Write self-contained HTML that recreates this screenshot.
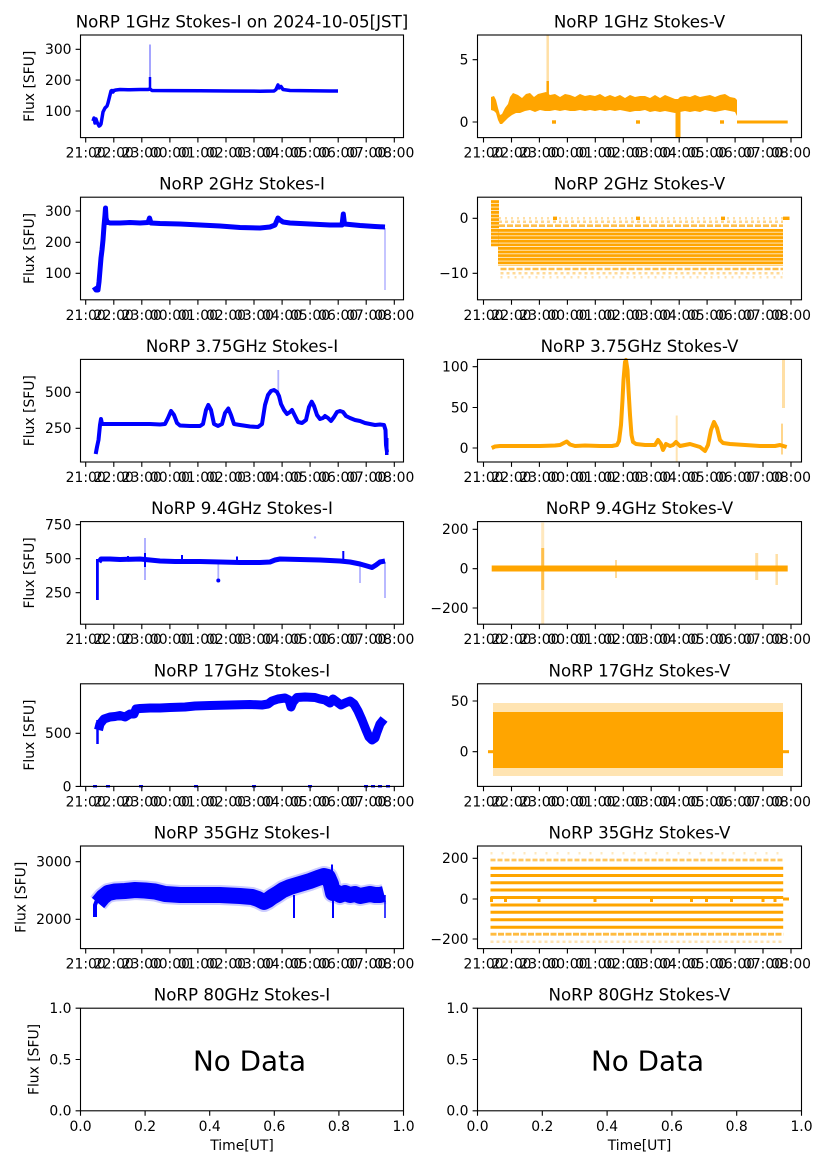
<!DOCTYPE html>
<html><head><meta charset="utf-8">
<style>
html,body{margin:0;padding:0;background:#fff;}
svg{display:block;}
text{font-family:"DejaVu Sans","Liberation Sans",sans-serif;fill:#000;}
.tk{font-size:13.9px;}
.xt{font-size:13.9px;text-anchor:middle;}
.yl{font-size:13.9px;text-anchor:end;}
.yr{font-size:13.9px;text-anchor:end;}
.ti{font-size:16.67px;text-anchor:middle;}
.ax{fill:none;stroke:#000;stroke-width:1.1;}
.tick{fill:none;stroke:#000;stroke-width:1.1;}
.b{fill:none;stroke:#0000ff;stroke-linejoin:round;stroke-linecap:butt;}
.o{fill:none;stroke:#ffa500;stroke-linejoin:round;stroke-linecap:butt;}
</style></head>
<body>
<svg width="827" height="1169" viewBox="0 0 827 1169" xmlns="http://www.w3.org/2000/svg">
<defs>
<pattern id="st" patternUnits="userSpaceOnUse" x="0" y="229" width="8" height="3.6">
<rect x="0" y="0" width="8" height="2.9" fill="#ffa500"/>
</pattern>
</defs>
<rect width="827" height="1169" fill="#fff"/>

<!-- ===================== TITLES ===================== -->
<text class="ti" x="242" y="27.5">NoRP 1GHz Stokes-I on 2024-10-05[JST]</text>
<text class="ti" x="639.5" y="27.5">NoRP 1GHz Stokes-V</text>
<text class="ti" x="242" y="189.7">NoRP 2GHz Stokes-I</text>
<text class="ti" x="639.5" y="189.7">NoRP 2GHz Stokes-V</text>
<text class="ti" x="242" y="351.9">NoRP 3.75GHz Stokes-I</text>
<text class="ti" x="639.5" y="351.9">NoRP 3.75GHz Stokes-V</text>
<text class="ti" x="242" y="514.1">NoRP 9.4GHz Stokes-I</text>
<text class="ti" x="639.5" y="514.1">NoRP 9.4GHz Stokes-V</text>
<text class="ti" x="242" y="676.3">NoRP 17GHz Stokes-I</text>
<text class="ti" x="639.5" y="676.3">NoRP 17GHz Stokes-V</text>
<text class="ti" x="242" y="838.5">NoRP 35GHz Stokes-I</text>
<text class="ti" x="639.5" y="838.5">NoRP 35GHz Stokes-V</text>
<text class="ti" x="242" y="1000.7">NoRP 80GHz Stokes-I</text>
<text class="ti" x="639.5" y="1000.7">NoRP 80GHz Stokes-V</text>

<!-- ===================== Y LABELS ===================== -->
<text class="tk" text-anchor="middle" transform="translate(29.5,86.3) rotate(-90)" x="0" y="4.5">Flux [SFU]</text>
<text class="tk" text-anchor="middle" transform="translate(29.5,248.5) rotate(-90)" x="0" y="4.5">Flux [SFU]</text>
<text class="tk" text-anchor="middle" transform="translate(29.5,410.7) rotate(-90)" x="0" y="4.5">Flux [SFU]</text>
<text class="tk" text-anchor="middle" transform="translate(29.5,572.9) rotate(-90)" x="0" y="4.5">Flux [SFU]</text>
<text class="tk" text-anchor="middle" transform="translate(29.5,735.1) rotate(-90)" x="0" y="4.5">Flux [SFU]</text>
<text class="tk" text-anchor="middle" transform="translate(21,897.3) rotate(-90)" x="0" y="4.5">Flux [SFU]</text>
<text class="tk" text-anchor="middle" transform="translate(34,1059.5) rotate(-90)" x="0" y="4.5">Flux [SFU]</text>

<!-- ===================== ROW 1 DATA ===================== -->
<path class="b" stroke-width="3.5" d="M93,121 L94,118 L95,123 L96,119 L97,122 L98,124 L99,126 L100,125.5 L101,124 L102,118 L103,112 L104,110 L105,108 L106,107 L107,106 L108,103 L109,99 L110,95 L111,91 L112,90.5 L113,92 L114,90.5 L116,90 L120,89.5 L130,89.8 L140,89.5 L148,89.5 L150,89 L152,90.5 L170,90.6 L200,90.8 L230,91 L260,91.2 L274,91 L276,89.5 L278,85 L279,88 L281,86.5 L283,89.5 L290,90.5 L310,90.8 L330,91 L338,91"/>
<line x1="150" y1="90" x2="150" y2="77" stroke="#0000ff" stroke-width="2.5"/>
<line x1="150" y1="77" x2="150" y2="44.5" stroke="#0000ff" stroke-width="2" opacity="0.35"/>
<polygon fill="#ffa500" points="491,97 494,96 496,100 498,108 500,115 502,114 505,108 508,104 510,97 513,93 518,95 522,98 526,94 530,93 534,97 538,94 542,93 546,92 550,95 555,94 560,97 565,94 570,95 575,97 580,94 585,96 590,95 595,96 600,94 605,97 610,95 615,97 620,95 625,98 630,95 635,97 640,96 645,96 650,98 655,95 660,98 665,95 670,97 675,99 678,99 680,97 685,96 690,97 695,95 700,97 705,96 710,95 715,97 720,95 725,94 730,97 735,98 737,100 737,116 735,112 730,111 725,110 720,111 715,112 710,111 705,110 700,112 695,111 690,112 685,111 680,112 675,113 670,112 665,111 660,112 655,111 650,112 645,110 640,111 635,111 630,112 625,111 620,110 615,111 610,110 605,111 600,110 595,111 590,110 585,111 580,110 575,111 570,111 565,110 560,111 555,110 550,111 545,111 540,110 535,112 530,110 525,111 520,113 516,113 512,115 508,118 505,121 502,124 500,124 498,120 496,113 494,111 491,110"/>
<rect x="675.5" y="108" width="5" height="29.5" fill="#ffa500"/>
<line x1="547.7" y1="35.5" x2="547.7" y2="81" stroke="#ffa500" stroke-width="2.5" opacity="0.35"/>
<line x1="547.7" y1="81" x2="547.7" y2="95" stroke="#ffa500" stroke-width="2.5"/>
<line x1="737" y1="122" x2="787.7" y2="122" stroke="#ffa500" stroke-width="3"/>
<rect x="552" y="120.3" width="4" height="3.4" fill="#ffa500"/>
<rect x="636" y="120.3" width="4" height="3.4" fill="#ffa500"/>
<rect x="720" y="120.3" width="4" height="3.4" fill="#ffa500"/>

<!-- ===================== ROW 2 DATA ===================== -->
<path class="b" stroke-width="5" d="M94,287 L96,290 L98,290 L99,282 L100,270 L101,258 L102,250 L103,240 L104,226 L105,215 L105.5,208 L106,218 L107,222 L110,223 L120,223 L130,222.5 L140,223 L148,222.5 L149.5,218 L151,223 L160,223.5 L180,224 L200,225 L220,226 L240,227.5 L260,228 L270,227 L275,225 L278,218 L280,220 L283,222 L290,223 L310,224 L330,225 L342,225 L343.3,214 L344.5,224 L360,225.5 L375,226.5 L385,227"/>
<line x1="385" y1="228" x2="385" y2="290" stroke="#0000ff" stroke-width="1.5" opacity="0.3"/>
<rect x="491" y="200" width="8" height="46.5" fill="url(#st)"/>
<rect x="498" y="229" width="285" height="36.5" fill="url(#st)"/>
<line x1="499" y1="218.3" x2="783" y2="218.3" stroke="#ffa500" stroke-width="2.5" stroke-dasharray="2 4" opacity="0.35"/>
<line x1="499" y1="221.7" x2="783" y2="221.7" stroke="#ffa500" stroke-width="2.5" stroke-dasharray="3 3" opacity="0.45"/>
<line x1="499" y1="225.7" x2="783" y2="225.7" stroke="#ffa500" stroke-width="2.6" stroke-dasharray="6 2" opacity="0.7"/>
<line x1="500.5" y1="269" x2="783" y2="269" stroke="#ffa500" stroke-width="2.6" stroke-dasharray="6 2" opacity="0.7"/>
<line x1="500.5" y1="273.3" x2="783" y2="273.3" stroke="#ffa500" stroke-width="2.5" stroke-dasharray="3 3" opacity="0.4"/>
<line x1="500.5" y1="277.3" x2="783" y2="277.3" stroke="#ffa500" stroke-width="2.5" stroke-dasharray="2 5" opacity="0.3"/>
<rect x="553" y="216.6" width="4" height="3.4" fill="#ffa500"/>
<rect x="636" y="216.6" width="4" height="3.4" fill="#ffa500"/>
<rect x="721" y="216.6" width="4" height="3.4" fill="#ffa500"/>
<rect x="783" y="216.6" width="6.5" height="3.4" fill="#ffa500"/>

<!-- ===================== ROW 3 DATA ===================== -->
<path class="b" stroke-width="4" d="M95.7,454 L97,447 L98.5,440 L100,425 L101,419 L102,424 L110,424 L130,424 L150,424 L160,424.5 L165,424 L168,418 L171,411 L174,415 L177,423 L180,425.5 L190,426 L200,426 L203,424 L206,410 L208.3,405 L211,410 L214,424 L218,426 L222,424 L225,413 L228.3,408.5 L231,415 L234,424 L240,425 L250,426.5 L258,427 L262,424 L265,405 L268,395 L271,391 L274,390 L277,392 L279,396 L281,404 L284,410 L287,414 L290,412 L292,410 L295,416 L298,422 L302,423 L306,420 L309,407 L311.7,401.7 L314,406 L317,415 L320,419 L323,418 L325,416 L328,418 L331,421 L334,417 L337,412 L340,411 L343,412 L346,416 L350,418 L355,420 L360,421 L365,423 L370,424 L375,425 L380,424.5 L384,425 L385.5,430 L386,445 L387,452"/>
<line x1="278.3" y1="392" x2="278.3" y2="370" stroke="#0000ff" stroke-width="1.8" opacity="0.3"/>
<rect x="385" y="438" width="3.5" height="17" fill="#0000ff"/>
<path class="o" stroke-width="4" d="M491.7,448 L495,446.5 L500,446 L520,446 L540,446 L555,445.5 L560,445 L566.7,441.5 L570,444.5 L575,446 L585,445.5 L600,446 L612,446 L617,445 L619,441 L621,425 L622.5,400 L623.5,380 L625,362 L626,360 L627.5,370 L628.5,390 L630,415 L631.5,435 L633,442 L636,444 L645,445 L655,445 L658,440 L661,444 L663,450 L666,444 L670,446 L673,445 L676,442 L680,446 L690,444 L700,447 L705,451 L708,445 L711,430 L714,422 L717,428 L720,440 L723,443 L730,444 L745,445 L760,446 L775,446 L780,445 L786.7,447"/>
<line x1="676.7" y1="415.5" x2="676.7" y2="461.5" stroke="#ffa500" stroke-width="2" opacity="0.3"/>
<line x1="783.5" y1="359.5" x2="783.5" y2="408" stroke="#ffa500" stroke-width="3" opacity="0.35"/>
<line x1="782" y1="423.6" x2="782" y2="454.5" stroke="#ffa500" stroke-width="1.5" opacity="0.6"/>

<!-- ===================== ROW 4 DATA ===================== -->
<path class="b" stroke-width="5" d="M99,562 L101,559 L110,559 L120,559.5 L140,559 L150,560 L160,561 L175,561.5 L200,561.5 L220,562 L240,562.5 L260,562.5 L270,562 L275,560 L280,559 L300,559.5 L320,560 L330,560.5 L340,561 L350,562 L360,564 L367,566 L372,567.5 L376,565 L380,562 L385,561"/>
<rect x="96" y="559" width="2.8" height="41" fill="#0000ff"/>
<line x1="145" y1="538" x2="145" y2="580" stroke="#0000ff" stroke-width="2" opacity="0.3"/>
<line x1="145" y1="553" x2="145" y2="567" stroke="#0000ff" stroke-width="2"/>
<line x1="218.3" y1="562" x2="218.3" y2="580" stroke="#0000ff" stroke-width="1.8" opacity="0.3"/>
<circle cx="218.3" cy="580.5" r="2" fill="#0000ff"/>
<line x1="360" y1="562" x2="360" y2="583" stroke="#0000ff" stroke-width="1.8" opacity="0.3"/>
<line x1="385" y1="562" x2="385" y2="598" stroke="#0000ff" stroke-width="1.8" opacity="0.3"/>
<line x1="343.3" y1="551" x2="343.3" y2="560" stroke="#0000ff" stroke-width="2"/>
<line x1="128" y1="556" x2="128" y2="559" stroke="#0000ff" stroke-width="2"/>
<line x1="182" y1="555" x2="182" y2="560" stroke="#0000ff" stroke-width="2"/>
<line x1="237" y1="556.5" x2="237" y2="561" stroke="#0000ff" stroke-width="2"/>
<circle cx="315" cy="537.5" r="1.2" fill="#0000ff" opacity="0.3"/>
<rect x="491.7" y="565.5" width="296" height="6" fill="#ffa500"/>
<line x1="542.7" y1="522.5" x2="542.7" y2="624" stroke="#ffa500" stroke-width="3" opacity="0.25"/>
<line x1="542.7" y1="548" x2="542.7" y2="590" stroke="#ffa500" stroke-width="3" opacity="0.6"/>
<line x1="616" y1="560" x2="616" y2="578" stroke="#ffa500" stroke-width="2" opacity="0.4"/>
<line x1="756.7" y1="553" x2="756.7" y2="580" stroke="#ffa500" stroke-width="3" opacity="0.35"/>
<line x1="776.7" y1="554" x2="776.7" y2="585" stroke="#ffa500" stroke-width="2.5" opacity="0.35"/>

<!-- ===================== ROW 5 DATA ===================== -->
<path class="b" stroke-width="9" d="M98.5,730 L100,724 L104,719 L110,717 L115,716.5 L120,715.5 L125,717 L130,714 L134,714 L136,709 L140,708.5 L150,708 L160,708 L170,707.5 L185,707 L195,706 L210,705.5 L230,705 L250,704.5 L262,705 L268,704 L272,701 L278,699 L285,698 L289,700 L291,707 L293,702 L297,697.5 L305,697 L315,697.5 L320,699 L325,700 L330,703 L333,699 L337,702 L341,705 L345,703 L350,701 L354,704 L358,711 L362,720 L366,730 L369,737 L372,740 L375,738 L377,732 L380,724 L384,719"/>
<line x1="97.5" y1="744" x2="97.5" y2="720" stroke="#0000ff" stroke-width="2.5"/>
<g fill="#0000ff">
<rect x="93" y="785" width="4" height="2.5"/><rect x="106" y="785" width="4" height="2.5"/>
<rect x="139" y="785" width="4" height="2.5"/><rect x="194" y="785" width="4" height="2.5"/>
<rect x="252" y="785" width="4" height="2.5"/><rect x="308" y="785" width="4" height="2.5"/>
<rect x="364" y="785" width="4" height="2.5"/><rect x="371" y="785" width="4" height="2.5"/>
<rect x="378" y="785" width="4" height="2.5"/><rect x="386" y="785" width="4" height="2.5"/>
</g>
<rect x="493" y="703" width="290" height="73" fill="#ffa500" opacity="0.3"/>
<rect x="493" y="712" width="290" height="56" fill="#ffa500"/>
<rect x="488" y="750.2" width="5" height="3" fill="#ffa500"/>
<rect x="783" y="750.2" width="6" height="3" fill="#ffa500"/>

<!-- ===================== ROW 6 DATA ===================== -->
<path class="b" stroke-width="20" opacity="0.2" d="M98,903 L103,897 L108,893 L115,891.5 L125,891 L135,890 L145,890.5 L155,891.5 L165,894 L180,895 L200,895 L220,895 L240,896 L252,897 L258,899 L264,902 L268,900 L272,897 L277,894 L283,890 L290,887 L300,884 L310,881 L318,878 L324,876 L328,877 L331,884 L333,893 L336,892 L340,895 L345,893 L350,895 L355,894 L360,896 L365,895 L370,894 L375,895 L380,895 L384,894"/>
<path class="b" stroke-width="16" d="M98,903 L103,897 L108,893 L115,891.5 L125,891 L135,890 L145,890.5 L155,891.5 L165,894 L180,895 L200,895 L220,895 L240,896 L252,897 L258,899 L264,902 L268,900 L272,897 L277,894 L283,890 L290,887 L300,884 L310,881 L318,878 L324,876 L328,877 L331,884 L333,893 L336,892 L340,895 L345,893 L350,895 L355,894 L360,896 L365,895 L370,894 L375,895 L380,895 L384,894"/>
<path class="b" stroke-width="4" d="M95,917 L95,905 L97,900"/>
<line x1="332" y1="880" x2="332" y2="864.5" stroke="#0000ff" stroke-width="2"/>
<line x1="294" y1="895" x2="294" y2="918" stroke="#0000ff" stroke-width="2"/>
<line x1="333" y1="895" x2="333" y2="918" stroke="#0000ff" stroke-width="2"/>
<line x1="385" y1="895" x2="385" y2="918" stroke="#0000ff" stroke-width="1.5"/>
<g stroke="#ffa500" stroke-width="3">
<line x1="490.5" y1="868.3" x2="783.2" y2="868.3"/>
<line x1="490.5" y1="875.5" x2="783.2" y2="875.5"/>
<line x1="490.5" y1="882.7" x2="783.2" y2="882.7"/>
<line x1="490.5" y1="890" x2="783.2" y2="890"/>
<line x1="490.5" y1="897.5" x2="783.2" y2="897.5"/>
<line x1="490.5" y1="905" x2="783.2" y2="905"/>
<line x1="490.5" y1="912.3" x2="783.2" y2="912.3"/>
<line x1="490.5" y1="919.8" x2="783.2" y2="919.8"/>
<line x1="490.5" y1="927.3" x2="783.2" y2="927.3"/>
</g>
<line x1="490.5" y1="860" x2="783.2" y2="860" stroke="#ffa500" stroke-width="2.8" stroke-dasharray="5 2" opacity="0.6"/>
<line x1="490.5" y1="934.2" x2="783.2" y2="934.2" stroke="#ffa500" stroke-width="2.8" stroke-dasharray="6 1.5" opacity="0.75"/>
<line x1="490.5" y1="941.7" x2="783.2" y2="941.7" stroke="#ffa500" stroke-width="2.5" stroke-dasharray="3 3" opacity="0.3"/>
<line x1="490.5" y1="853.3" x2="783.2" y2="853.3" stroke="#ffa500" stroke-width="2.5" stroke-dasharray="2 9" opacity="0.25"/>
<g fill="#ffa500">
<rect x="490" y="897" width="3" height="5"/><rect x="504" y="897" width="3" height="5"/>
<rect x="537.5" y="897" width="3" height="5"/><rect x="593.5" y="897" width="3" height="5"/>
<rect x="650" y="897" width="3" height="5"/><rect x="690" y="897" width="3" height="5"/>
<rect x="705" y="897" width="3" height="5"/><rect x="730" y="897" width="3" height="5"/>
<rect x="761.5" y="897" width="3" height="5"/><rect x="773.5" y="897" width="3" height="5"/>
<rect x="783" y="897.5" width="6" height="3"/>
</g>

<!-- ===================== NO DATA ===================== -->
<text x="249.5" y="1070.5" text-anchor="middle" style="font-size:27.8px">No Data</text>
<text x="647.5" y="1070.5" text-anchor="middle" style="font-size:27.8px">No Data</text>

<!-- ===================== AXES FRAMES ===================== -->
<g class="ax">
<rect x="80.5" y="35" width="323" height="102.6"/>
<rect x="477.5" y="35" width="324" height="102.6"/>
<rect x="80.5" y="197.2" width="323" height="102.6"/>
<rect x="477.5" y="197.2" width="324" height="102.6"/>
<rect x="80.5" y="359.4" width="323" height="102.6"/>
<rect x="477.5" y="359.4" width="324" height="102.6"/>
<rect x="80.5" y="521.6" width="323" height="102.6"/>
<rect x="477.5" y="521.6" width="324" height="102.6"/>
<rect x="80.5" y="683.8" width="323" height="102.6"/>
<rect x="477.5" y="683.8" width="324" height="102.6"/>
<rect x="80.5" y="846" width="323" height="102.6"/>
<rect x="477.5" y="846" width="324" height="102.6"/>
<rect x="80.5" y="1008.2" width="323" height="102.6"/>
<rect x="477.5" y="1008.2" width="324" height="102.6"/>
</g>

<!-- ===================== TICKS ===================== -->
<g class="tick">
<path d="M85.7,137.6v4.9M113.8,137.6v4.9M141.8,137.6v4.9M169.9,137.6v4.9M197.9,137.6v4.9M226,137.6v4.9M254,137.6v4.9M282.1,137.6v4.9M310.1,137.6v4.9M338.2,137.6v4.9M366.2,137.6v4.9M394.3,137.6v4.9"/>
<path d="M483.5,137.6v4.9M511.5,137.6v4.9M539.4,137.6v4.9M567.4,137.6v4.9M595.3,137.6v4.9M623.3,137.6v4.9M651.2,137.6v4.9M679.2,137.6v4.9M707.1,137.6v4.9M735.1,137.6v4.9M763,137.6v4.9M791,137.6v4.9"/>
<path d="M85.7,299.8v4.9M113.8,299.8v4.9M141.8,299.8v4.9M169.9,299.8v4.9M197.9,299.8v4.9M226,299.8v4.9M254,299.8v4.9M282.1,299.8v4.9M310.1,299.8v4.9M338.2,299.8v4.9M366.2,299.8v4.9M394.3,299.8v4.9"/>
<path d="M483.5,299.8v4.9M511.5,299.8v4.9M539.4,299.8v4.9M567.4,299.8v4.9M595.3,299.8v4.9M623.3,299.8v4.9M651.2,299.8v4.9M679.2,299.8v4.9M707.1,299.8v4.9M735.1,299.8v4.9M763,299.8v4.9M791,299.8v4.9"/>
<path d="M85.7,462v4.9M113.8,462v4.9M141.8,462v4.9M169.9,462v4.9M197.9,462v4.9M226,462v4.9M254,462v4.9M282.1,462v4.9M310.1,462v4.9M338.2,462v4.9M366.2,462v4.9M394.3,462v4.9"/>
<path d="M483.5,462v4.9M511.5,462v4.9M539.4,462v4.9M567.4,462v4.9M595.3,462v4.9M623.3,462v4.9M651.2,462v4.9M679.2,462v4.9M707.1,462v4.9M735.1,462v4.9M763,462v4.9M791,462v4.9"/>
<path d="M85.7,624.2v4.9M113.8,624.2v4.9M141.8,624.2v4.9M169.9,624.2v4.9M197.9,624.2v4.9M226,624.2v4.9M254,624.2v4.9M282.1,624.2v4.9M310.1,624.2v4.9M338.2,624.2v4.9M366.2,624.2v4.9M394.3,624.2v4.9"/>
<path d="M483.5,624.2v4.9M511.5,624.2v4.9M539.4,624.2v4.9M567.4,624.2v4.9M595.3,624.2v4.9M623.3,624.2v4.9M651.2,624.2v4.9M679.2,624.2v4.9M707.1,624.2v4.9M735.1,624.2v4.9M763,624.2v4.9M791,624.2v4.9"/>
<path d="M85.7,786.4v4.9M113.8,786.4v4.9M141.8,786.4v4.9M169.9,786.4v4.9M197.9,786.4v4.9M226,786.4v4.9M254,786.4v4.9M282.1,786.4v4.9M310.1,786.4v4.9M338.2,786.4v4.9M366.2,786.4v4.9M394.3,786.4v4.9"/>
<path d="M483.5,786.4v4.9M511.5,786.4v4.9M539.4,786.4v4.9M567.4,786.4v4.9M595.3,786.4v4.9M623.3,786.4v4.9M651.2,786.4v4.9M679.2,786.4v4.9M707.1,786.4v4.9M735.1,786.4v4.9M763,786.4v4.9M791,786.4v4.9"/>
<path d="M85.7,948.6v4.9M113.8,948.6v4.9M141.8,948.6v4.9M169.9,948.6v4.9M197.9,948.6v4.9M226,948.6v4.9M254,948.6v4.9M282.1,948.6v4.9M310.1,948.6v4.9M338.2,948.6v4.9M366.2,948.6v4.9M394.3,948.6v4.9"/>
<path d="M483.5,948.6v4.9M511.5,948.6v4.9M539.4,948.6v4.9M567.4,948.6v4.9M595.3,948.6v4.9M623.3,948.6v4.9M651.2,948.6v4.9M679.2,948.6v4.9M707.1,948.6v4.9M735.1,948.6v4.9M763,948.6v4.9M791,948.6v4.9"/>
<path d="M80.5,1110.8v4.9M145.1,1110.8v4.9M209.7,1110.8v4.9M274.3,1110.8v4.9M338.9,1110.8v4.9M403.5,1110.8v4.9"/>
<path d="M477.5,1110.8v4.9M542.3,1110.8v4.9M607.1,1110.8v4.9M671.9,1110.8v4.9M736.7,1110.8v4.9M801.5,1110.8v4.9"/>
<path d="M75.6,111h4.9M75.6,80.1h4.9M75.6,49.3h4.9"/>
<path d="M472.6,122h4.9M472.6,59.7h4.9"/>
<path d="M75.6,273.3h4.9M75.6,242.3h4.9M75.6,211h4.9"/>
<path d="M472.6,218.3h4.9M472.6,273.3h4.9"/>
<path d="M75.6,428.3h4.9M75.6,392.3h4.9"/>
<path d="M472.6,448h4.9M472.6,407.5h4.9M472.6,366.7h4.9"/>
<path d="M75.6,592.7h4.9M75.6,558.7h4.9M75.6,524.7h4.9"/>
<path d="M472.6,529.3h4.9M472.6,568.7h4.9M472.6,608h4.9"/>
<path d="M75.6,786.4h4.9M75.6,733.3h4.9"/>
<path d="M472.6,751.7h4.9M472.6,701h4.9"/>
<path d="M75.6,919.3h4.9M75.6,861.7h4.9"/>
<path d="M472.6,858.3h4.9M472.6,899h4.9M472.6,939h4.9"/>
<path d="M75.6,1110.8h4.9M75.6,1059.5h4.9M75.6,1008.2h4.9"/>
<path d="M472.6,1110.8h4.9M472.6,1059.5h4.9M472.6,1008.2h4.9"/>
</g>

<!-- ===================== Y TICK LABELS ===================== -->
<text class="yl" x="71.5" y="115.9">100</text>
<text class="yl" x="71.5" y="85">200</text>
<text class="yl" x="71.5" y="54.2">300</text>
<text class="yr" x="468.5" y="126.9">0</text>
<text class="yr" x="468.5" y="64.6">5</text>

<text class="yl" x="71.5" y="278.2">100</text>
<text class="yl" x="71.5" y="247.2">200</text>
<text class="yl" x="71.5" y="215.9">300</text>
<text class="yr" x="468.5" y="223.2">0</text>
<text class="yr" x="468.5" y="278.2">−10</text>

<text class="yl" x="71.5" y="433.2">250</text>
<text class="yl" x="71.5" y="397.2">500</text>
<text class="yr" x="468.5" y="452.9">0</text>
<text class="yr" x="468.5" y="412.4">50</text>
<text class="yr" x="468.5" y="371.6">100</text>

<text class="yl" x="71.5" y="597.6">250</text>
<text class="yl" x="71.5" y="563.6">500</text>
<text class="yl" x="71.5" y="529.6">750</text>
<text class="yr" x="468.5" y="534.2">200</text>
<text class="yr" x="468.5" y="573.6">0</text>
<text class="yr" x="468.5" y="612.9">−200</text>

<text class="yl" x="71.5" y="791.3">0</text>
<text class="yl" x="71.5" y="738.2">500</text>
<text class="yr" x="468.5" y="756.6">0</text>
<text class="yr" x="468.5" y="705.9">50</text>

<text class="yl" x="71.5" y="924.2">2000</text>
<text class="yl" x="71.5" y="866.6">3000</text>
<text class="yr" x="468.5" y="863.2">200</text>
<text class="yr" x="468.5" y="903.9">0</text>
<text class="yr" x="468.5" y="943.9">−200</text>

<text class="yl" x="71.5" y="1115.7">0.0</text>
<text class="yl" x="71.5" y="1064.4">0.5</text>
<text class="yl" x="71.5" y="1013.1">1.0</text>
<text class="yr" x="468.5" y="1115.7">0.0</text>
<text class="yr" x="468.5" y="1064.4">0.5</text>
<text class="yr" x="468.5" y="1013.1">1.0</text>

<!-- ===================== X TICK LABELS ===================== -->
<g class="xt">
<text x="85.7" y="157.6">21:00</text><text x="113.8" y="157.6">22:00</text><text x="141.8" y="157.6">23:00</text><text x="169.9" y="157.6">00:00</text><text x="197.9" y="157.6">01:00</text><text x="226" y="157.6">02:00</text><text x="254" y="157.6">03:00</text><text x="282.1" y="157.6">04:00</text><text x="310.1" y="157.6">05:00</text><text x="338.2" y="157.6">06:00</text><text x="366.2" y="157.6">07:00</text><text x="394.3" y="157.6">08:00</text>
<text x="483.5" y="157.6">21:00</text><text x="511.5" y="157.6">22:00</text><text x="539.4" y="157.6">23:00</text><text x="567.4" y="157.6">00:00</text><text x="595.3" y="157.6">01:00</text><text x="623.3" y="157.6">02:00</text><text x="651.2" y="157.6">03:00</text><text x="679.2" y="157.6">04:00</text><text x="707.1" y="157.6">05:00</text><text x="735.1" y="157.6">06:00</text><text x="763" y="157.6">07:00</text><text x="791" y="157.6">08:00</text>

<text x="85.7" y="319.8">21:00</text><text x="113.8" y="319.8">22:00</text><text x="141.8" y="319.8">23:00</text><text x="169.9" y="319.8">00:00</text><text x="197.9" y="319.8">01:00</text><text x="226" y="319.8">02:00</text><text x="254" y="319.8">03:00</text><text x="282.1" y="319.8">04:00</text><text x="310.1" y="319.8">05:00</text><text x="338.2" y="319.8">06:00</text><text x="366.2" y="319.8">07:00</text><text x="394.3" y="319.8">08:00</text>
<text x="483.5" y="319.8">21:00</text><text x="511.5" y="319.8">22:00</text><text x="539.4" y="319.8">23:00</text><text x="567.4" y="319.8">00:00</text><text x="595.3" y="319.8">01:00</text><text x="623.3" y="319.8">02:00</text><text x="651.2" y="319.8">03:00</text><text x="679.2" y="319.8">04:00</text><text x="707.1" y="319.8">05:00</text><text x="735.1" y="319.8">06:00</text><text x="763" y="319.8">07:00</text><text x="791" y="319.8">08:00</text>

<text x="85.7" y="482">21:00</text><text x="113.8" y="482">22:00</text><text x="141.8" y="482">23:00</text><text x="169.9" y="482">00:00</text><text x="197.9" y="482">01:00</text><text x="226" y="482">02:00</text><text x="254" y="482">03:00</text><text x="282.1" y="482">04:00</text><text x="310.1" y="482">05:00</text><text x="338.2" y="482">06:00</text><text x="366.2" y="482">07:00</text><text x="394.3" y="482">08:00</text>
<text x="483.5" y="482">21:00</text><text x="511.5" y="482">22:00</text><text x="539.4" y="482">23:00</text><text x="567.4" y="482">00:00</text><text x="595.3" y="482">01:00</text><text x="623.3" y="482">02:00</text><text x="651.2" y="482">03:00</text><text x="679.2" y="482">04:00</text><text x="707.1" y="482">05:00</text><text x="735.1" y="482">06:00</text><text x="763" y="482">07:00</text><text x="791" y="482">08:00</text>

<text x="85.7" y="644.2">21:00</text><text x="113.8" y="644.2">22:00</text><text x="141.8" y="644.2">23:00</text><text x="169.9" y="644.2">00:00</text><text x="197.9" y="644.2">01:00</text><text x="226" y="644.2">02:00</text><text x="254" y="644.2">03:00</text><text x="282.1" y="644.2">04:00</text><text x="310.1" y="644.2">05:00</text><text x="338.2" y="644.2">06:00</text><text x="366.2" y="644.2">07:00</text><text x="394.3" y="644.2">08:00</text>
<text x="483.5" y="644.2">21:00</text><text x="511.5" y="644.2">22:00</text><text x="539.4" y="644.2">23:00</text><text x="567.4" y="644.2">00:00</text><text x="595.3" y="644.2">01:00</text><text x="623.3" y="644.2">02:00</text><text x="651.2" y="644.2">03:00</text><text x="679.2" y="644.2">04:00</text><text x="707.1" y="644.2">05:00</text><text x="735.1" y="644.2">06:00</text><text x="763" y="644.2">07:00</text><text x="791" y="644.2">08:00</text>

<text x="85.7" y="806.4">21:00</text><text x="113.8" y="806.4">22:00</text><text x="141.8" y="806.4">23:00</text><text x="169.9" y="806.4">00:00</text><text x="197.9" y="806.4">01:00</text><text x="226" y="806.4">02:00</text><text x="254" y="806.4">03:00</text><text x="282.1" y="806.4">04:00</text><text x="310.1" y="806.4">05:00</text><text x="338.2" y="806.4">06:00</text><text x="366.2" y="806.4">07:00</text><text x="394.3" y="806.4">08:00</text>
<text x="483.5" y="806.4">21:00</text><text x="511.5" y="806.4">22:00</text><text x="539.4" y="806.4">23:00</text><text x="567.4" y="806.4">00:00</text><text x="595.3" y="806.4">01:00</text><text x="623.3" y="806.4">02:00</text><text x="651.2" y="806.4">03:00</text><text x="679.2" y="806.4">04:00</text><text x="707.1" y="806.4">05:00</text><text x="735.1" y="806.4">06:00</text><text x="763" y="806.4">07:00</text><text x="791" y="806.4">08:00</text>

<text x="85.7" y="968.6">21:00</text><text x="113.8" y="968.6">22:00</text><text x="141.8" y="968.6">23:00</text><text x="169.9" y="968.6">00:00</text><text x="197.9" y="968.6">01:00</text><text x="226" y="968.6">02:00</text><text x="254" y="968.6">03:00</text><text x="282.1" y="968.6">04:00</text><text x="310.1" y="968.6">05:00</text><text x="338.2" y="968.6">06:00</text><text x="366.2" y="968.6">07:00</text><text x="394.3" y="968.6">08:00</text>
<text x="483.5" y="968.6">21:00</text><text x="511.5" y="968.6">22:00</text><text x="539.4" y="968.6">23:00</text><text x="567.4" y="968.6">00:00</text><text x="595.3" y="968.6">01:00</text><text x="623.3" y="968.6">02:00</text><text x="651.2" y="968.6">03:00</text><text x="679.2" y="968.6">04:00</text><text x="707.1" y="968.6">05:00</text><text x="735.1" y="968.6">06:00</text><text x="763" y="968.6">07:00</text><text x="791" y="968.6">08:00</text>

<text x="80.5" y="1130.8">0.0</text><text x="145.1" y="1130.8">0.2</text><text x="209.7" y="1130.8">0.4</text><text x="274.3" y="1130.8">0.6</text><text x="338.9" y="1130.8">0.8</text><text x="403.5" y="1130.8">1.0</text>
<text x="477.5" y="1130.8">0.0</text><text x="542.3" y="1130.8">0.2</text><text x="607.1" y="1130.8">0.4</text><text x="671.9" y="1130.8">0.6</text><text x="736.7" y="1130.8">0.8</text><text x="801.5" y="1130.8">1.0</text>

<text x="242" y="1150">Time[UT]</text>
<text x="639.5" y="1150">Time[UT]</text>
</g>
</svg>
</body></html>
